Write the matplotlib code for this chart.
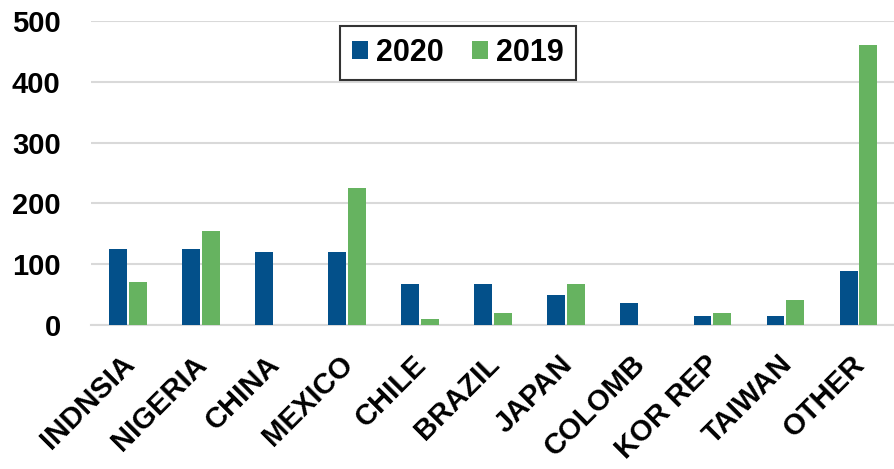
import numpy as np
import matplotlib.pyplot as plt
import matplotlib.transforms as mtrans

# values
countries = ["INDNSIA", "NIGERIA", "CHINA", "MEXICO", "CHILE", "BRAZIL",
             "JAPAN", "COLOMB", "KOR REP", "TAIWAN", "OTHER"]
vals_2020 = [125, 125, 120, 120, 67, 67, 49, 36, 15, 15, 89]
vals_2019 = [71, 155, 0, 225, 10, 19, 67, 0, 19, 41, 461]

plt.rcParams['font.family'] = ['Liberation Sans', 'DejaVu Sans']

fig = plt.figure(figsize=(8.95, 4.69), dpi=100)
ax = fig.add_axes([0.102, 0.307, 0.898, 0.648])

x = np.arange(len(countries))
w = 0.245
ax.bar(x - 0.135, vals_2020, w, color="#03508A", label="2020", zorder=3)
ax.bar(x + 0.135, vals_2019, w, color="#66B360", label="2019", zorder=3)

ax.set_ylim(0, 500)
ax.set_xlim(-0.5, len(countries) - 0.5)
ax.set_yticks([0, 100, 200, 300, 400, 500])
ax.yaxis.grid(True, color="#D9D9D9", linewidth=1.5, zorder=0)
ax.set_axisbelow(True)
for s in ["top", "right", "left"]:
    ax.spines[s].set_visible(False)
ax.spines["bottom"].set_color("#D9D9D9")
ax.spines["bottom"].set_linewidth(1.5)
ax.tick_params(length=0)
ax.tick_params(axis="y", pad=22)
ax.tick_params(axis="x", pad=18)

ax.set_xticks(x)
ax.set_xticklabels(countries, rotation=45, ha="right", rotation_mode="anchor",
                   fontsize=21, fontweight="bold")
# nudge rotated labels a bit to the left, like the original
shift = mtrans.ScaledTranslation(-8 / 100, 0, fig.dpi_scale_trans)
for lbl in ax.get_xticklabels():
    lbl.set_transform(lbl.get_transform() + shift)
for lbl in ax.get_yticklabels():
    lbl.set_fontsize(21)
    lbl.set_fontweight("bold")

leg = ax.legend(loc="upper center", bbox_to_anchor=(0.456, 0.984), ncol=2,
                prop={"size": 22, "weight": "bold"}, frameon=True, fancybox=False,
                handlelength=0.52, handleheight=0.52, handletextpad=0.26,
                columnspacing=0.92, borderpad=0.4, borderaxespad=0)
leg.get_frame().set_edgecolor("black")
leg.get_frame().set_linewidth(1.5)

fig.savefig("out.png", dpi=100)
